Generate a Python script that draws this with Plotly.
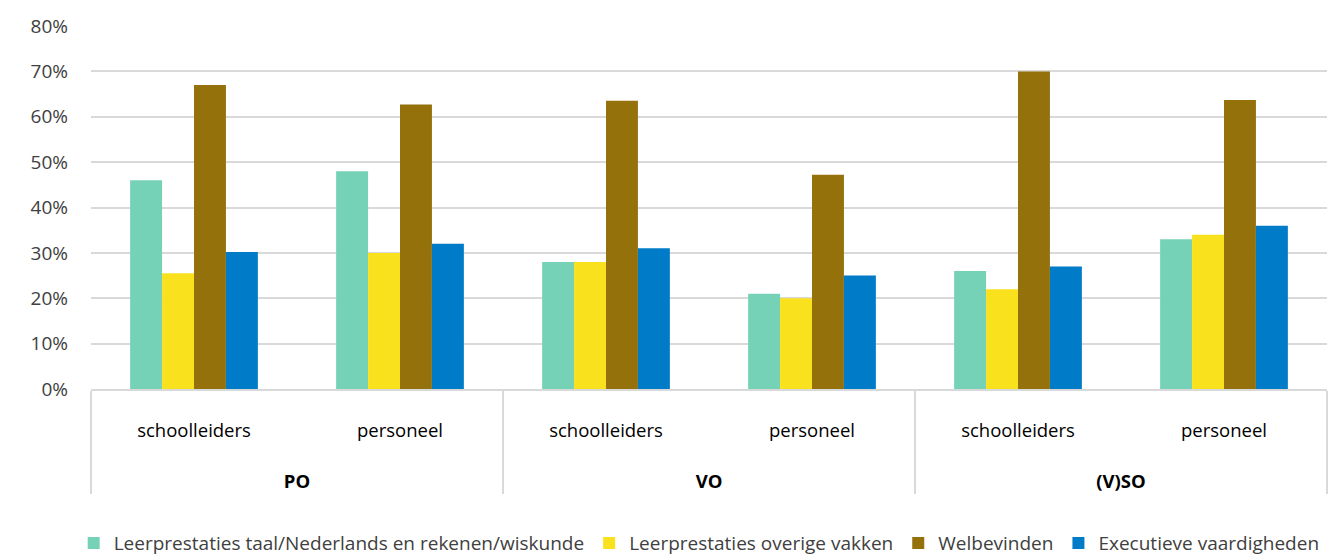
import plotly.graph_objects as go

groups = ["PO", "PO", "VO", "VO", "(V)SO", "(V)SO"]
roles = ["schoolleiders", "personeel", "schoolleiders", "personeel", "schoolleiders", "personeel"]

series_names = [
    "Leerprestaties taal/Nederlands en rekenen/wiskunde",
    "Leerprestaties overige vakken",
    "Welbevinden",
    "Executieve vaardigheden",
]
taal_rekenen = [0.46, 0.48, 0.28, 0.21, 0.26, 0.33]
overige_vakken = [0.255, 0.30, 0.28, 0.20, 0.22, 0.34]
welbevinden = [0.67, 0.627, 0.635, 0.472, 0.70, 0.637]
executief = [0.302, 0.32, 0.31, 0.25, 0.27, 0.36]
colors = ["#76D2B6", "#F9E11E", "#94710A", "#007BC7"]

FONT = "Open Sans"
x = [["<br><br><b>" + g + "</b>" for g in groups], ["<br>" + r for r in roles]]

fig = go.Figure()
for name, vals, col in zip(series_names, [taal_rekenen, overige_vakken, welbevinden, executief], colors):
    fig.add_trace(go.Bar(x=x, y=vals, name=name, marker=dict(color=col, line=dict(width=0))))

fig.update_layout(
    width=1329, height=556,
    margin=dict(l=91, r=2, t=26, b=167, autoexpand=False),
    plot_bgcolor="white", paper_bgcolor="white",
    barmode="group", bargap=0.38, bargroupgap=0,
    font=dict(family=FONT, size=18, color="#404040"),
    legend=dict(orientation="h", x=-0.014, xanchor="left", y=-0.372, yanchor="top",
                font=dict(size=19, color="#404040"), itemwidth=30, traceorder="normal"),
    showlegend=True,
)
fig.update_yaxes(range=[0, 0.8], dtick=0.1, tickformat=".0%", showgrid=True,
                 gridcolor="#d9d9d9", gridwidth=1.5, zeroline=False, automargin=False,
                 ticks="", ticklabelstandoff=22, tickfont=dict(size=19, color="#404040"))
fig.update_xaxes(showline=True, linecolor="#d9d9d9", linewidth=1.5, automargin=False,
                 dividercolor="#d9d9d9", dividerwidth=1.5,
                 tickfont=dict(size=18.5, color="#000000"), ticks="", ticklen=0)

fig.write_html("out.html", config={"displayModeBar": False},
               post_script="document.body.style.margin='0px';")
